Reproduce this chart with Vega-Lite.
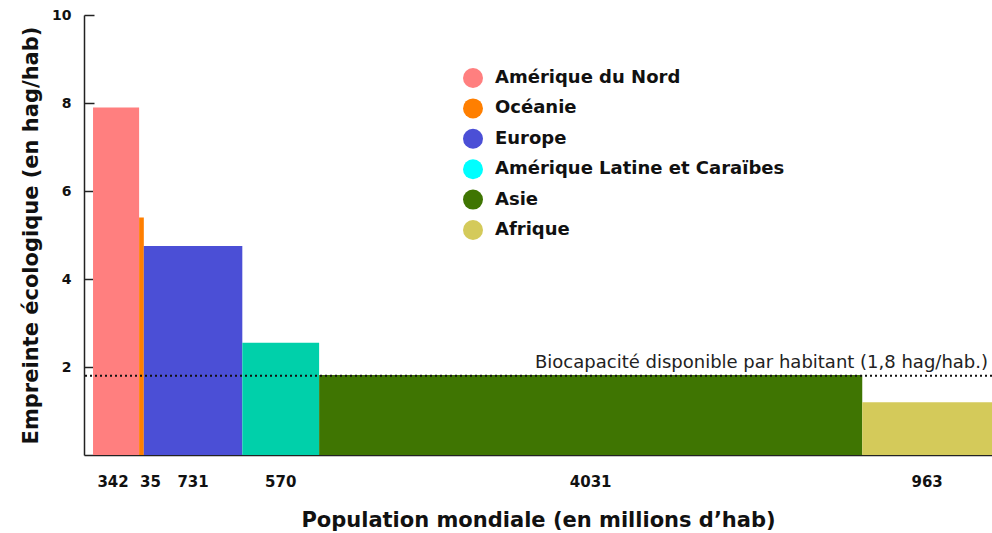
{
  "$schema": "https://vega.github.io/schema/vega-lite/v6.json",
  "autosize": "none",
  "padding": {"left": 84, "top": 15, "right": 0, "bottom": 78},
  "width": 908,
  "height": 440,
  "background": "white",
  "config": {"view": {"stroke": null}, "font": "DejaVu Sans"},
  "datasets": {
    "regions": [
      {"region": "Amérique du Nord", "population": 342, "debut": 0, "fin": 342, "empreinte": 7.9},
      {"region": "Océanie", "population": 35, "debut": 342, "fin": 377, "empreinte": 5.4},
      {"region": "Europe", "population": 731, "debut": 377, "fin": 1108, "empreinte": 4.75},
      {"region": "Amérique Latine et Caraïbes", "population": 570, "debut": 1108, "fin": 1678, "empreinte": 2.55},
      {"region": "Asie", "population": 4031, "debut": 1678, "fin": 5709, "empreinte": 1.82},
      {"region": "Afrique", "population": 963, "debut": 5709, "fin": 6672, "empreinte": 1.2}
    ],
    "biocapacite": [
      {"label": "Biocapacité disponible par habitant (1,8 hag/hab.)", "valeur": 1.8, "position": 6672}
    ]
  },
  "layer": [
    {
      "data": {"name": "regions"},
      "mark": {"type": "rect"},
      "encoding": {
        "x": {
          "field": "debut", "type": "quantitative",
          "scale": {"domain": [-67, 6672], "nice": false, "zero": false},
          "axis": {
            "ticks": false, "labels": false, "grid": false, "domain": true,
            "domainColor": "#222", "domainWidth": 1.5,
            "title": "Population mondiale (en millions d’hab)",
            "titleFontSize": 21, "titleFontWeight": "bold", "titleColor": "#111",
            "titlePadding": 54
          }
        },
        "x2": {"field": "fin"},
        "y": {
          "field": "empreinte", "type": "quantitative",
          "scale": {"domain": [0, 10], "nice": false},
          "axis": {
            "values": [2, 4, 6, 8, 10], "grid": false,
            "tickSize": -10, "tickColor": "#222", "tickWidth": 1.5,
            "domainColor": "#222", "domainWidth": 1.5,
            "labelFontSize": 14, "labelFontWeight": "bold", "labelColor": "#111",
            "labelPadding": 23,
            "title": "Empreinte écologique (en hag/hab)",
            "titleFontSize": 21, "titleFontWeight": "bold", "titleColor": "#111",
            "titlePadding": 10
          }
        },
        "y2": {"datum": 0},
        "fill": {
          "field": "region", "type": "nominal",
          "scale": {
            "domain": ["Amérique du Nord", "Océanie", "Europe", "Amérique Latine et Caraïbes", "Asie", "Afrique"],
            "range": ["#FF7F7F", "#FF7F00", "#4B4FD6", "#00D0AA", "#3F7502", "#D4CA5A"]
          },
          "legend": null
        }
      }
    },
    {
      "data": {"name": "regions"},
      "transform": [
        {"filter": "datum.region != 'Océanie' && datum.region != 'Amérique du Nord'"},
        {"calculate": "(datum.debut + datum.fin) / 2", "as": "milieu"}
      ],
      "mark": {"type": "text", "fontSize": 15, "fontWeight": "bold", "color": "#111", "dy": 27, "baseline": "middle"},
      "encoding": {
        "x": {"field": "milieu", "type": "quantitative"},
        "y": {"datum": 0},
        "text": {"field": "population", "type": "quantitative"}
      }
    },
    {
      "data": {"name": "regions"},
      "transform": [
        {"filter": "datum.region == 'Amérique du Nord'"},
        {"calculate": "(datum.debut + datum.fin) / 2", "as": "milieu"}
      ],
      "mark": {"type": "text", "fontSize": 15, "fontWeight": "bold", "color": "#111", "dy": 27, "dx": -3, "baseline": "middle"},
      "encoding": {
        "x": {"field": "milieu", "type": "quantitative"},
        "y": {"datum": 0},
        "text": {"field": "population", "type": "quantitative"}
      }
    },
    {
      "data": {"name": "regions"},
      "transform": [
        {"filter": "datum.region == 'Océanie'"},
        {"calculate": "(datum.debut + datum.fin) / 2", "as": "milieu"}
      ],
      "mark": {"type": "text", "fontSize": 15, "fontWeight": "bold", "color": "#111", "dy": 27, "dx": 9, "baseline": "middle"},
      "encoding": {
        "x": {"field": "milieu", "type": "quantitative"},
        "y": {"datum": 0},
        "text": {"field": "population", "type": "quantitative"}
      }
    },
    {
      "data": {"name": "biocapacite"},
      "mark": {"type": "rule", "color": "#111", "strokeWidth": 2, "strokeDash": [2, 3]},
      "encoding": {"y": {"field": "valeur", "type": "quantitative"}}
    },
    {
      "data": {"name": "biocapacite"},
      "mark": {"type": "text", "fontSize": 18, "color": "#222", "align": "right", "baseline": "alphabetic", "dy": -8, "dx": -4},
      "encoding": {
        "x": {"field": "position", "type": "quantitative"},
        "y": {"field": "valeur", "type": "quantitative"},
        "text": {"field": "label"}
      }
    },
    {
      "data": {"name": "regions"},
      "mark": {"type": "point", "filled": true, "opacity": 0},
      "encoding": {
        "x": {"field": "debut", "type": "quantitative"},
        "y": {"field": "empreinte", "type": "quantitative"},
        "color": {
          "field": "region", "type": "nominal",
          "scale": {
            "domain": ["Amérique du Nord", "Océanie", "Europe", "Amérique Latine et Caraïbes", "Asie", "Afrique"],
            "range": ["#FF7F7F", "#FF7F00", "#4B4FD6", "#00FFFF", "#3F7502", "#D4CA5A"]
          },
          "legend": {
            "orient": "none", "legendX": 379, "legendY": 53,
            "title": null, "symbolType": "circle", "symbolSize": 400,
            "symbolOpacity": 1, "symbolStrokeWidth": 0,
            "labelFontSize": 18, "labelFontWeight": "bold", "labelColor": "#111",
            "labelOffset": 12, "rowPadding": 10.4, "labelLimit": 400,
            "encode": {"symbols": {"update": {"opacity": {"value": 1}, "fillOpacity": {"value": 1}}}}
          }
        }
      }
    }
  ],
  "resolve": {"scale": {"color": "independent", "fill": "independent"}, "legend": {"color": "independent", "fill": "independent"}}
}
